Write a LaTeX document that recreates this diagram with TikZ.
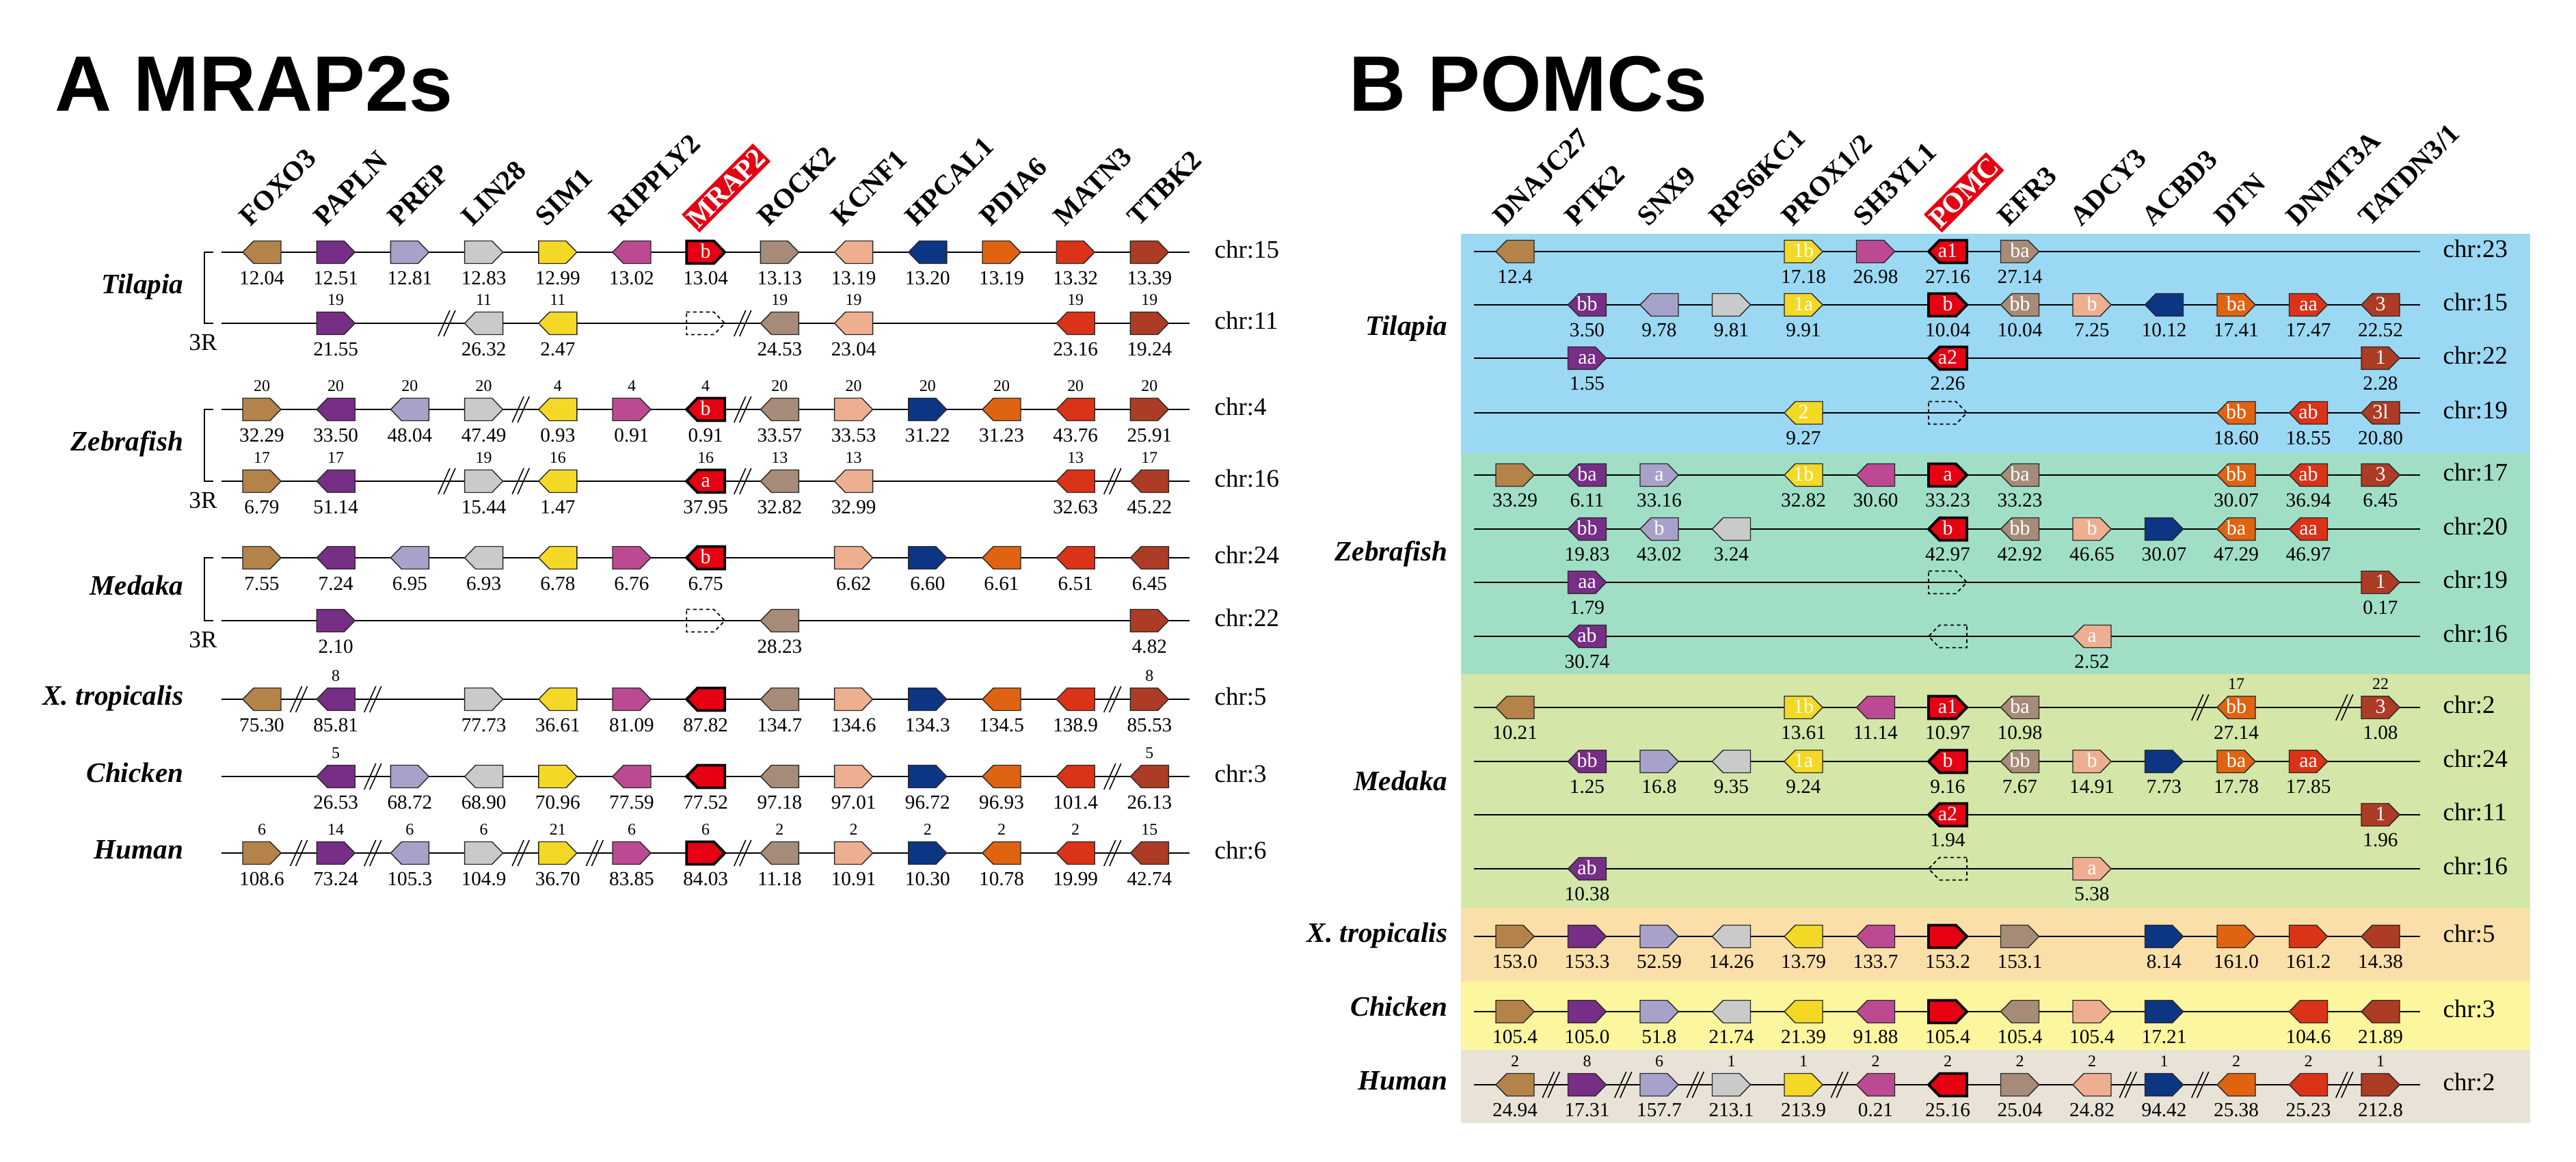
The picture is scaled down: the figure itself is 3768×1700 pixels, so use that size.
\documentclass[tikz,border=0pt]{standalone}
\usepackage{fontspec}
\setmainfont{Liberation Serif}
\newfontfamily\arialfont{Liberation Sans}
\definecolor{c0}{HTML}{B3834A}
\definecolor{c1}{HTML}{772E86}
\definecolor{c2}{HTML}{A7A2C9}
\definecolor{c3}{HTML}{C9CACA}
\definecolor{c4}{HTML}{F3D925}
\definecolor{c5}{HTML}{BB4A92}
\definecolor{c6}{HTML}{E60012}
\definecolor{c7}{HTML}{A68C78}
\definecolor{c8}{HTML}{EEAF91}
\definecolor{c9}{HTML}{0C3584}
\definecolor{c10}{HTML}{E06311}
\definecolor{c11}{HTML}{DA3318}
\definecolor{c12}{HTML}{AC3C25}
\definecolor{bgT}{HTML}{9BD8F4}
\definecolor{bgZ}{HTML}{A0DFC6}
\definecolor{bgM}{HTML}{D4E6A8}
\definecolor{bgX}{HTML}{FBDFA9}
\definecolor{bgC}{HTML}{FCF69E}
\definecolor{bgH}{HTML}{E9E3D7}
\tikzset{
 chrline/.style={line width=0.7pt, line cap=butt},
 genebox/.style={draw=black!85, line width=0.4pt, line join=miter},
 redline/.style={draw=black, line width=1.1pt},
 numb/.style={font=\fontsize{8.3}{9}\selectfont, inner sep=0pt},
 numa/.style={font=\fontsize{6.8}{8}\selectfont, inner sep=0pt},
 intext/.style={font=\fontsize{8.5}{9}\selectfont, text=white, inner sep=0pt, anchor=mid},
 chrlab/.style={font=\fontsize{10.5}{12}\selectfont, anchor=mid west, inner sep=0pt},
 species/.style={font=\bfseries\itshape\fontsize{11.7}{13}\selectfont, anchor=mid east, inner sep=0pt},
 genelab/.style={font=\bfseries\fontsize{11.6}{13}\selectfont, rotate=45, anchor=base west, inner xsep=0.6pt, inner ysep=1.4pt},
 hilab/.style={genelab, fill=c6, text=white},
 ptitle/.style={font=\arialfont\bfseries\fontsize{32.7}{36}\selectfont, anchor=base west, inner sep=0pt},
 threeR/.style={font=\fontsize{10}{12}\selectfont, inner sep=0pt},
 brk/.style={line width=0.45pt},
 missing/.style={dashed, dash pattern=on 1.5pt off 1.2pt, line width=0.5pt},
}
\newcommand\G[6]{%
 \pgfmathsetmacro\gx{\xb+\xs*#1}%
 \begin{scope}[shift={(\gx,#2)}]
 \ifnum#1=6
  \draw[genebox,redline,fill=c#1,xscale=#3] (-28,-16.5) -- (12,-16.5) -- (28,0) -- (12,16.5) -- (-28,16.5) -- cycle;
 \else
  \draw[genebox,fill=c#1,xscale=#3] (-28,-16.5) -- (12,-16.5) -- (28,0) -- (12,16.5) -- (-28,16.5) -- cycle;
 \fi
 \node[intext] at (0,0) {#4};
 \node[numb] at (0,\nb) {#5};
 \node[numa] at (0,-34) {#6};
 \end{scope}}
\newcommand\GD[3]{%
 \pgfmathsetmacro\gx{\xb+\xs*#1}%
 \begin{scope}[shift={(\gx,#2)}]
  \draw[missing,xscale=#3] (-28,-16.5) -- (12,-16.5) -- (28,0) -- (12,16.5) -- (-28,16.5) -- cycle;
 \end{scope}}
\newcommand\BR[2]{%
 \pgfmathsetmacro\gx{\xb+\xs*(#1+0.5)}%
 \draw[brk] (\gx-12.5,#2+19) -- (\gx+4.5,#2-19) (\gx-4.5,#2+19) -- (\gx+12.5,#2-19);}
\newcommand\ROW[2]{%
 \draw[chrline] (\lx,#1) -- (\rx,#1);
 \node[chrlab] at (\cx,#1) {#2};}
\newcommand\HL[2]{\node[genelab] at ({\xb+\xs*#1-18},334) {#2};}
\newcommand\HLR[2]{\node[hilab] at ({\xb+\xs*#1-13},337) {#2};}
\newcommand\BRK[2]{%
 \draw[chrline] (312,#1) -- (299,#1) -- (299,#2) -- (312,#2);
 \node[threeR] at (297,#2+28) {3R};}
\begin{document}
\begin{tikzpicture}[x=0.01cm,y=-0.01cm]
\useasboundingbox (0,0) rectangle (3768,1700);
\fill[white] (0,0) rectangle (3768,1700);
% ================= Panel A =================
\node[ptitle] (titleA) at (80,163) {A MRAP2s};
\def\xb{383}\def\xs{108.2}\def\lx{324}\def\rx{1740}\def\cx{1776}\def\nb{38}
\HL{0}{FOXO3}\HL{1}{PAPLN}\HL{2}{PREP}\HL{3}{LIN28}\HL{4}{SIM1}\HL{5}{RIPPLY2}
\HLR{6}{MRAP2}
\HL{7}{ROCK2}\HL{8}{KCNF1}\HL{9}{HPCAL1}\HL{10}{PDIA6}\HL{11}{MATN3}\HL{12}{TTBK2}
% species
\node[species] (spTA) at (269,421) {Tilapia};
\node[species] (spZA) at (269,651) {Zebrafish};
\node[species] (spMA) at (269,862) {Medaka};
\node[species] (spXA) at (269,1023) {X. tropicalis};
\node[species] (spCA) at (269,1136) {Chicken};
\node[species] (spHA) at (269,1248) {Human};
\BRK{369}{473}\BRK{599}{704}\BRK{816}{908}
% Tilapia chr15
\ROW{369}{chr:15}
\G{0}{369}{-1}{}{12.04}{}\G{1}{369}{1}{}{12.51}{}\G{2}{369}{1}{}{12.81}{}
\G{3}{369}{1}{}{12.83}{}\G{4}{369}{1}{}{12.99}{}\G{5}{369}{-1}{}{13.02}{}
\G{6}{369}{1}{b}{13.04}{}\G{7}{369}{1}{}{13.13}{}\G{8}{369}{-1}{}{13.19}{}
\G{9}{369}{-1}{}{13.20}{}\G{10}{369}{1}{}{13.19}{}\G{11}{369}{1}{}{13.32}{}
\G{12}{369}{1}{}{13.39}{}
% Tilapia chr11
\ROW{473}{chr:11}
\BR{2}{473}\BR{6}{473}
\G{1}{473}{1}{}{21.55}{19}\G{3}{473}{-1}{}{26.32}{11}\G{4}{473}{-1}{}{2.47}{11}
\GD{6}{473}{1}
\G{7}{473}{-1}{}{24.53}{19}\G{8}{473}{-1}{}{23.04}{19}
\G{11}{473}{-1}{}{23.16}{19}\G{12}{473}{1}{}{19.24}{19}
% Zebrafish chr4
\ROW{599}{chr:4}
\BR{3}{599}\BR{6}{599}
\G{0}{599}{1}{}{32.29}{20}\G{1}{599}{-1}{}{33.50}{20}\G{2}{599}{-1}{}{48.04}{20}
\G{3}{599}{1}{}{47.49}{20}\G{4}{599}{-1}{}{0.93}{4}\G{5}{599}{1}{}{0.91}{4}
\G{6}{599}{-1}{b}{0.91}{4}\G{7}{599}{-1}{}{33.57}{20}\G{8}{599}{1}{}{33.53}{20}
\G{9}{599}{1}{}{31.22}{20}\G{10}{599}{-1}{}{31.23}{20}\G{11}{599}{-1}{}{43.76}{20}
\G{12}{599}{1}{}{25.91}{20}
% Zebrafish chr16
\ROW{704}{chr:16}
\BR{2}{704}\BR{3}{704}\BR{6}{704}\BR{11}{704}
\G{0}{704}{1}{}{6.79}{17}\G{1}{704}{-1}{}{51.14}{17}\G{3}{704}{1}{}{15.44}{19}
\G{4}{704}{-1}{}{1.47}{16}\G{6}{704}{-1}{a}{37.95}{16}\G{7}{704}{-1}{}{32.82}{13}
\G{8}{704}{-1}{}{32.99}{13}\G{11}{704}{-1}{}{32.63}{13}\G{12}{704}{-1}{}{45.22}{17}
% Medaka chr24
\ROW{816}{chr:24}
\G{0}{816}{1}{}{7.55}{}\G{1}{816}{-1}{}{7.24}{}\G{2}{816}{-1}{}{6.95}{}
\G{3}{816}{-1}{}{6.93}{}\G{4}{816}{-1}{}{6.78}{}\G{5}{816}{1}{}{6.76}{}
\G{6}{816}{-1}{b}{6.75}{}\G{8}{816}{1}{}{6.62}{}\G{9}{816}{1}{}{6.60}{}
\G{10}{816}{-1}{}{6.61}{}\G{11}{816}{-1}{}{6.51}{}\G{12}{816}{-1}{}{6.45}{}
% Medaka chr22
\ROW{908}{chr:22}
\G{1}{908}{1}{}{2.10}{}\GD{6}{908}{1}\G{7}{908}{-1}{}{28.23}{}\G{12}{908}{1}{}{4.82}{}
% X. tropicalis chr5
\ROW{1023}{chr:5}
\BR{0}{1023}\BR{1}{1023}\BR{11}{1023}
\G{0}{1023}{-1}{}{75.30}{}\G{1}{1023}{-1}{}{85.81}{8}\G{3}{1023}{1}{}{77.73}{}
\G{4}{1023}{-1}{}{36.61}{}\G{5}{1023}{1}{}{81.09}{}\G{6}{1023}{-1}{}{87.82}{}
\G{7}{1023}{-1}{}{134.7}{}\G{8}{1023}{1}{}{134.6}{}\G{9}{1023}{1}{}{134.3}{}
\G{10}{1023}{-1}{}{134.5}{}\G{11}{1023}{-1}{}{138.9}{}\G{12}{1023}{1}{}{85.53}{8}
% Chicken chr3
\ROW{1136}{chr:3}
\BR{1}{1136}\BR{11}{1136}
\G{1}{1136}{-1}{}{26.53}{5}\G{2}{1136}{1}{}{68.72}{}\G{3}{1136}{-1}{}{68.90}{}
\G{4}{1136}{1}{}{70.96}{}\G{5}{1136}{-1}{}{77.59}{}\G{6}{1136}{-1}{}{77.52}{}
\G{7}{1136}{-1}{}{97.18}{}\G{8}{1136}{1}{}{97.01}{}\G{9}{1136}{1}{}{96.72}{}
\G{10}{1136}{-1}{}{96.93}{}\G{11}{1136}{-1}{}{101.4}{}\G{12}{1136}{-1}{}{26.13}{5}
% Human chr6
\ROW{1248}{chr:6}
\BR{0}{1248}\BR{1}{1248}\BR{3}{1248}\BR{4}{1248}\BR{6}{1248}\BR{11}{1248}
\G{0}{1248}{1}{}{108.6}{6}\G{1}{1248}{1}{}{73.24}{14}\G{2}{1248}{-1}{}{105.3}{6}
\G{3}{1248}{1}{}{104.9}{6}\G{4}{1248}{1}{}{36.70}{21}\G{5}{1248}{1}{}{83.85}{6}
\G{6}{1248}{1}{}{84.03}{6}\G{7}{1248}{-1}{}{11.18}{2}\G{8}{1248}{1}{}{10.91}{2}
\G{9}{1248}{1}{}{10.30}{2}\G{10}{1248}{-1}{}{10.78}{2}\G{11}{1248}{-1}{}{19.99}{2}
\G{12}{1248}{-1}{}{42.74}{15}
% ================= Panel B =================
\node[ptitle] (titleB) at (1973,163) {B POMCs};
\fill[bgT] (2137,342) rectangle (3701,663);
\fill[bgZ] (2137,663) rectangle (3701,986);
\fill[bgM] (2137,986) rectangle (3701,1329);
\fill[bgX] (2137,1329) rectangle (3701,1436);
\fill[bgC] (2137,1436) rectangle (3701,1536);
\fill[bgH] (2137,1536) rectangle (3701,1643);
\def\xb{2216}\def\xs{105.5}\def\lx{2156}\def\rx{3540}\def\cx{3573}\def\nb{37}
\HL{0}{DNAJC27}\HL{1}{PTK2}\HL{2}{SNX9}\HL{3}{RPS6KC1}\HL{4}{PROX1/2}\HL{5}{SH3YL1}
\HLR{6}{POMC}
\HL{7}{EFR3}\HL{8}{ADCY3}\HL{9}{ACBD3}\HL{10}{DTN}\HL{11}{DNMT3A}\HL{12}{TATDN3/1}
\node[species] (spTB) at (2118,482) {Tilapia};
\node[species] (spZB) at (2118,812) {Zebrafish};
\node[species] (spMB) at (2118,1148) {Medaka};
\node[species] (spXB) at (2118,1370) {X. tropicalis};
\node[species] (spCB) at (2118,1478) {Chicken};
\node[species] (spHB) at (2118,1586) {Human};
% Tilapia
\ROW{368}{chr:23}
\G{0}{368}{-1}{}{12.4}{}\G{4}{368}{1}{1b}{17.18}{}\G{5}{368}{1}{}{26.98}{}
\G{6}{368}{-1}{a1}{27.16}{}\G{7}{368}{1}{ba}{27.14}{}
\ROW{446}{chr:15}
\G{1}{446}{-1}{bb}{3.50}{}\G{2}{446}{-1}{}{9.78}{}\G{3}{446}{1}{}{9.81}{}
\G{4}{446}{1}{1a}{9.91}{}\G{6}{446}{1}{b}{10.04}{}\G{7}{446}{-1}{bb}{10.04}{}
\G{8}{446}{1}{b}{7.25}{}\G{9}{446}{-1}{}{10.12}{}\G{10}{446}{1}{ba}{17.41}{}
\G{11}{446}{1}{aa}{17.47}{}\G{12}{446}{-1}{3}{22.52}{}
\ROW{524}{chr:22}
\G{1}{524}{1}{aa}{1.55}{}\G{6}{524}{-1}{a2}{2.26}{}\G{12}{524}{1}{1}{2.28}{}
\ROW{604}{chr:19}
\G{4}{604}{-1}{2}{9.27}{}\GD{6}{604}{1}\G{10}{604}{-1}{bb}{18.60}{}
\G{11}{604}{-1}{ab}{18.55}{}\G{12}{604}{-1}{3l}{20.80}{}
% Zebrafish
\ROW{695}{chr:17}
\G{0}{695}{1}{}{33.29}{}\G{1}{695}{-1}{ba}{6.11}{}\G{2}{695}{1}{a}{33.16}{}
\G{4}{695}{-1}{1b}{32.82}{}\G{5}{695}{-1}{}{30.60}{}\G{6}{695}{1}{a}{33.23}{}
\G{7}{695}{-1}{ba}{33.23}{}\G{10}{695}{-1}{bb}{30.07}{}\G{11}{695}{-1}{ab}{36.94}{}
\G{12}{695}{1}{3}{6.45}{}
\ROW{774}{chr:20}
\G{1}{774}{-1}{bb}{19.83}{}\G{2}{774}{-1}{b}{43.02}{}\G{3}{774}{-1}{}{3.24}{}
\G{6}{774}{-1}{b}{42.97}{}\G{7}{774}{-1}{bb}{42.92}{}\G{8}{774}{1}{b}{46.65}{}
\G{9}{774}{1}{}{30.07}{}\G{10}{774}{-1}{ba}{47.29}{}\G{11}{774}{-1}{aa}{46.97}{}
\ROW{852}{chr:19}
\G{1}{852}{1}{aa}{1.79}{}\GD{6}{852}{1}\G{12}{852}{1}{1}{0.17}{}
\ROW{931}{chr:16}
\G{1}{931}{-1}{ab}{30.74}{}\GD{6}{931}{-1}\G{8}{931}{-1}{a}{2.52}{}
% Medaka
\ROW{1035}{chr:2}
\BR{9}{1035}\BR{11}{1035}
\G{0}{1035}{-1}{}{10.21}{}\G{4}{1035}{1}{1b}{13.61}{}\G{5}{1035}{-1}{}{11.14}{}
\G{6}{1035}{1}{a1}{10.97}{}\G{7}{1035}{-1}{ba}{10.98}{}\G{10}{1035}{-1}{bb}{27.14}{17}
\G{12}{1035}{1}{3}{1.08}{22}
\ROW{1114}{chr:24}
\G{1}{1114}{-1}{bb}{1.25}{}\G{2}{1114}{1}{}{16.8}{}\G{3}{1114}{-1}{}{9.35}{}
\G{4}{1114}{-1}{1a}{9.24}{}\G{6}{1114}{-1}{b}{9.16}{}\G{7}{1114}{-1}{bb}{7.67}{}
\G{8}{1114}{1}{b}{14.91}{}\G{9}{1114}{1}{}{7.73}{}\G{10}{1114}{1}{ba}{17.78}{}
\G{11}{1114}{1}{aa}{17.85}{}
\ROW{1192}{chr:11}
\G{6}{1192}{-1}{a2}{1.94}{}\G{12}{1192}{1}{1}{1.96}{}
\ROW{1271}{chr:16}
\G{1}{1271}{-1}{ab}{10.38}{}\GD{6}{1271}{-1}\G{8}{1271}{1}{a}{5.38}{}
% X. tropicalis
\ROW{1370}{chr:5}
\G{0}{1370}{1}{}{153.0}{}\G{1}{1370}{1}{}{153.3}{}\G{2}{1370}{1}{}{52.59}{}
\G{3}{1370}{-1}{}{14.26}{}\G{4}{1370}{-1}{}{13.79}{}\G{5}{1370}{-1}{}{133.7}{}
\G{6}{1370}{1}{}{153.2}{}\G{7}{1370}{1}{}{153.1}{}\G{9}{1370}{1}{}{8.14}{}
\G{10}{1370}{1}{}{161.0}{}\G{11}{1370}{1}{}{161.2}{}\G{12}{1370}{-1}{}{14.38}{}
% Chicken
\ROW{1480}{chr:3}
\G{0}{1480}{1}{}{105.4}{}\G{1}{1480}{1}{}{105.0}{}\G{2}{1480}{1}{}{51.8}{}
\G{3}{1480}{-1}{}{21.74}{}\G{4}{1480}{-1}{}{21.39}{}\G{5}{1480}{-1}{}{91.88}{}
\G{6}{1480}{1}{}{105.4}{}\G{7}{1480}{-1}{}{105.4}{}\G{8}{1480}{1}{}{105.4}{}
\G{9}{1480}{1}{}{17.21}{}\G{11}{1480}{-1}{}{104.6}{}\G{12}{1480}{-1}{}{21.89}{}
% Human
\ROW{1587}{chr:2}
\BR{0}{1587}\BR{1}{1587}\BR{2}{1587}\BR{4}{1587}\BR{8}{1587}\BR{9}{1587}\BR{11}{1587}
\G{0}{1587}{-1}{}{24.94}{2}\G{1}{1587}{1}{}{17.31}{8}\G{2}{1587}{1}{}{157.7}{6}
\G{3}{1587}{1}{}{213.1}{1}\G{4}{1587}{1}{}{213.9}{1}\G{5}{1587}{-1}{}{0.21}{2}
\G{6}{1587}{-1}{}{25.16}{2}\G{7}{1587}{1}{}{25.04}{2}\G{8}{1587}{-1}{}{24.82}{2}
\G{9}{1587}{1}{}{94.42}{1}\G{10}{1587}{-1}{}{25.38}{2}\G{11}{1587}{-1}{}{25.23}{2}
\G{12}{1587}{1}{}{212.8}{1}
\end{tikzpicture}
\end{document}
